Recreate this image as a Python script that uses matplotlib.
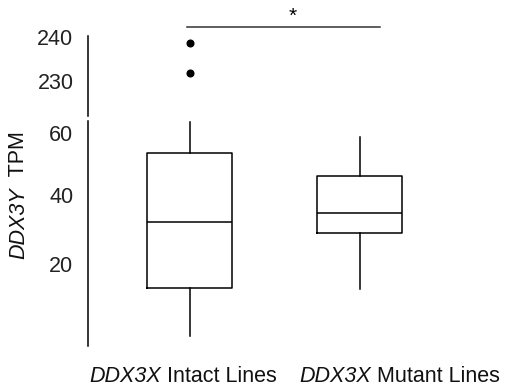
import numpy as np
import matplotlib
matplotlib.use("Agg")
import matplotlib.pyplot as plt

plt.rcParams['font.family'] = ['Liberation Sans', 'DejaVu Sans']

# Box statistics (TPM) per group
groups = ["Intact", "Mutant"]
whisker_low = [3.1, 13.5]
q1 = [13.8, 28.8]
median = [32.0, 34.5]
q3 = [53.4, 46.1]
whisker_high = [63.9, 58.9]
outliers = [[231.9, 238.8], []]

low_ticks = [20, 40, 60]
high_ticks = [230, 240]

FS = 15.5
W, H = 506, 392
fig = plt.figure(figsize=(W / 100, H / 100), dpi=100)
renderer = fig.canvas.get_renderer()

left = 88 / W
width = 374 / W
ax_hi = fig.add_axes([left, 1 - 116 / H, width, 80 / H])
ax_lo = fig.add_axes([left, 1 - 346 / H, width, 225 / H])

stats = []
for i in range(len(groups)):
    stats.append(dict(whislo=whisker_low[i], q1=q1[i], med=median[i],
                      q3=q3[i], whishi=whisker_high[i], fliers=outliers[i]))

lw = 1.1
props = dict(
    positions=[1, 2], widths=0.5, showcaps=False,
    boxprops=dict(color='black', linewidth=lw),
    whiskerprops=dict(color='black', linewidth=lw),
    medianprops=dict(color='black', linewidth=lw),
    flierprops=dict(marker='o', markerfacecolor='black',
                    markeredgecolor='black', markersize=4.8),
)

def fwd(y):
    y = np.asarray(y, dtype=float)
    return np.sign(y) * np.abs(y) ** 0.8

def inv(y):
    y = np.asarray(y, dtype=float)
    return np.sign(y) * np.abs(y) ** 1.25

for ax in (ax_hi, ax_lo):
    ax.bxp(stats, **props)
    ax.set_xlim(0.4, 2.6)
    for s in ('top', 'right', 'bottom'):
        ax.spines[s].set_visible(False)
    ax.spines['left'].set_linewidth(1.1)
    ax.set_xticks([])
    ax.tick_params(axis='y', length=0, pad=10.5, labelsize=FS, colors='#222222')
    ax.patch.set_alpha(0)

ax_lo.set_yscale('function', functions=(fwd, inv))
ax_lo.set_ylim(1.36, 64.2)
ax_lo.set_yticks(low_ticks)
ax_lo.set_yticklabels([str(t) for t in low_ticks])
ax_lo.minorticks_off()

ax_hi.set_ylim(222, 240.3)
ax_hi.set_yticks(high_ticks)
ax_hi.set_yticklabels([str(t) for t in high_ticks])

# significance bar
ax_hi.plot([0.98, 2.12], [242.3, 242.3], color='#333333', linewidth=1.1, clip_on=False)
ax_hi.text(1.606, 244.9, '*', ha='center', va='center', fontsize=15, clip_on=False)


def mixed_label(parts, cx, cy, vertical=False):
    """Draw (text, style) pieces in a row centred on pixel (cx, cy)."""
    rot = 90 if vertical else 0
    arts = []
    for txt, style in parts:
        t = fig.text(0, 0, txt, fontsize=FS, style=style, color='#111111',
                     rotation=rot, ha='left', va='center' if not vertical else 'bottom',
                     rotation_mode='anchor')
        arts.append(t)
    sizes = []
    for t in arts:
        bb = t.get_window_extent(renderer)
        sizes.append(bb.height if vertical else bb.width)
    total = sum(sizes)
    pos = (cy if vertical else cx) - total / 2
    for t, s in zip(arts, sizes):
        if vertical:
            t.set_ha('left')
            t.set_va('center')
            t.set_position((cx / W, pos / H))
        else:
            t.set_position((pos / W, cy / H))
        pos += s


mixed_label([('DDX3X', 'italic'), (' Intact Lines', 'normal')], 183.5, H - 377)
mixed_label([('DDX3X', 'italic'), (' Mutant Lines', 'normal')], 400, H - 377)
mixed_label([('DDX3Y', 'italic'), ('  TPM', 'normal')], 19, H - 195, vertical=True)

fig.savefig('out.png', dpi=100)
